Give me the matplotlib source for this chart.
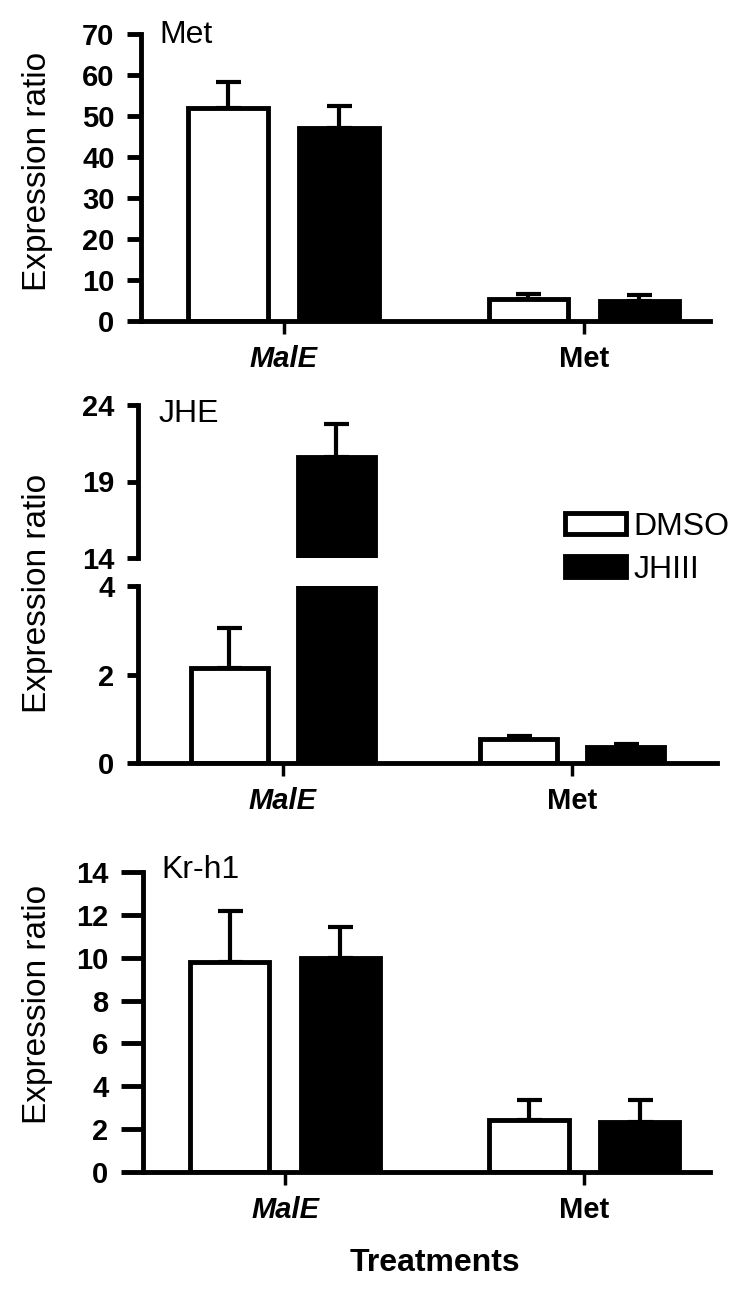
# qPCR expression ratios, DMSO vs JHIII, three genes

import numpy as np
import matplotlib
matplotlib.use('Agg')
import matplotlib.pyplot as plt
from matplotlib.patches import Patch

plt.rcParams['font.family'] = ['Liberation Sans', 'DejaVu Sans']

genes = ['MalE', 'Met']
treatments = ['DMSO', 'JHIII']

# Met panel
met_dmso = [52.0, 5.4]
met_dmso_err = [6.3, 1.2]
met_jh = [47.1, 4.9]
met_jh_err = [5.3, 1.4]

# JHE panel (broken axis)
jhe_dmso = [2.14, 0.54]
jhe_dmso_err = [0.91, 0.07]
jhe_jh = [20.6, 0.36]
jhe_jh_err = [2.16, 0.07]

# Kr-h1 panel
kr_dmso = [9.8, 2.43]
kr_dmso_err = [2.4, 0.93]
kr_jh = [10.0, 2.34]
kr_jh_err = [1.45, 1.02]

W, H = 750, 1295
LW = 3.5
width = 0.265
off = 0.185


def box(l, t, r, b):
    # pixel box -> figure fraction
    return [l / W, 1 - b / H, (r - l) / W, (b - t) / H]


def bars(ax, dmso, dmso_err, jh, jh_err, cap=9):
    x = np.arange(len(genes))
    ax.bar(x - off, dmso, width, color='white', edgecolor='black', linewidth=LW, zorder=2)
    ax.bar(x + off, jh, width, color='black', edgecolor='black', linewidth=LW, zorder=2)
    ax.errorbar(x - off, dmso, yerr=[np.zeros(len(x)), dmso_err], fmt='none',
                ecolor='black', elinewidth=3, capsize=cap, capthick=3, zorder=1)
    ax.errorbar(x + off, jh, yerr=[np.zeros(len(x)), jh_err], fmt='none',
                ecolor='black', elinewidth=3, capsize=cap, capthick=3, zorder=1)


def style(ax, yticks, ticklen=10, xaxis=True):
    for s in ['top', 'right']:
        ax.spines[s].set_visible(False)
    ax.spines['left'].set_linewidth(LW)
    ax.spines['bottom'].set_linewidth(LW)
    ax.set_yticks(yticks)
    ax.tick_params(axis='y', direction='out', length=ticklen, width=LW,
                   labelsize=21, pad=9)
    for lab in ax.get_yticklabels():
        lab.set_fontweight('bold')
    if xaxis:
        ax.set_xticks(range(len(genes)))
        ax.set_xticklabels(genes, fontsize=21, fontweight='bold')
        ax.get_xticklabels()[0].set_fontstyle('italic')
        ax.tick_params(axis='x', direction='out', length=9, width=2.5, pad=8)
    else:
        ax.spines['bottom'].set_visible(False)
        ax.set_xticks([])


fig = plt.figure(figsize=(7.5, 12.95), dpi=100)

# panel 1: Met
ax1 = fig.add_axes(box(141, 34, 710, 321))
bars(ax1, met_dmso, met_dmso_err, met_jh, met_jh_err)
ax1.set_xlim(-0.475, 1.42)
ax1.set_ylim(0, 70)
style(ax1, np.arange(0, 71, 10))

# panel 2: JHE, broken y axis
ax2u = fig.add_axes(box(138, 405, 717, 558))
ax2l = fig.add_axes(box(138, 586, 717, 763))
for ax in (ax2u, ax2l):
    bars(ax, jhe_dmso, jhe_dmso_err, jhe_jh, jhe_jh_err)
    ax.set_xlim(-0.5, 1.5)
ax2u.set_ylim(14, 24)
ax2l.set_ylim(0, 4)
style(ax2u, [14, 19, 24], ticklen=8, xaxis=False)
style(ax2l, [0, 2, 4], ticklen=8)

# panel 3: Kr-h1
ax3 = fig.add_axes(box(143, 872, 710, 1172))
bars(ax3, kr_dmso, kr_dmso_err, kr_jh, kr_jh_err)
ax3.set_xlim(-0.475, 1.42)
ax3.set_ylim(0, 14)
style(ax3, np.arange(0, 15, 2), ticklen=16)

# gene titles
fig.text(159 / W, 1 - 43 / H, 'Met', fontsize=23, va='baseline')
fig.text(159 / W, 1 - 422 / H, 'JHE', fontsize=23, va='baseline')
fig.text(161 / W, 1 - 878 / H, 'Kr-h1', fontsize=23, va='baseline')

# y labels
for yc in [171, 593, 1004]:
    fig.text(38 / W, 1 - yc / H, 'Expression ratio', fontsize=24,
             rotation=90, ha='center', va='center')

fig.text(435 / W, 1 - 1263 / H, 'Treatments', fontsize=23, fontweight='bold',
         ha='center', va='center')

handles = [Patch(facecolor='white', edgecolor='black', linewidth=LW),
           Patch(facecolor='black', edgecolor='black', linewidth=LW)]
fig.legend(handles, treatments, loc='upper left', bbox_to_anchor=(565 / W, 1 - 512 / H),
           frameon=False, fontsize=23, handlelength=1.9, handleheight=0.65,
           handletextpad=0.25, labelspacing=0.4, borderpad=0, borderaxespad=0)

fig.savefig('out.png', dpi=100)
